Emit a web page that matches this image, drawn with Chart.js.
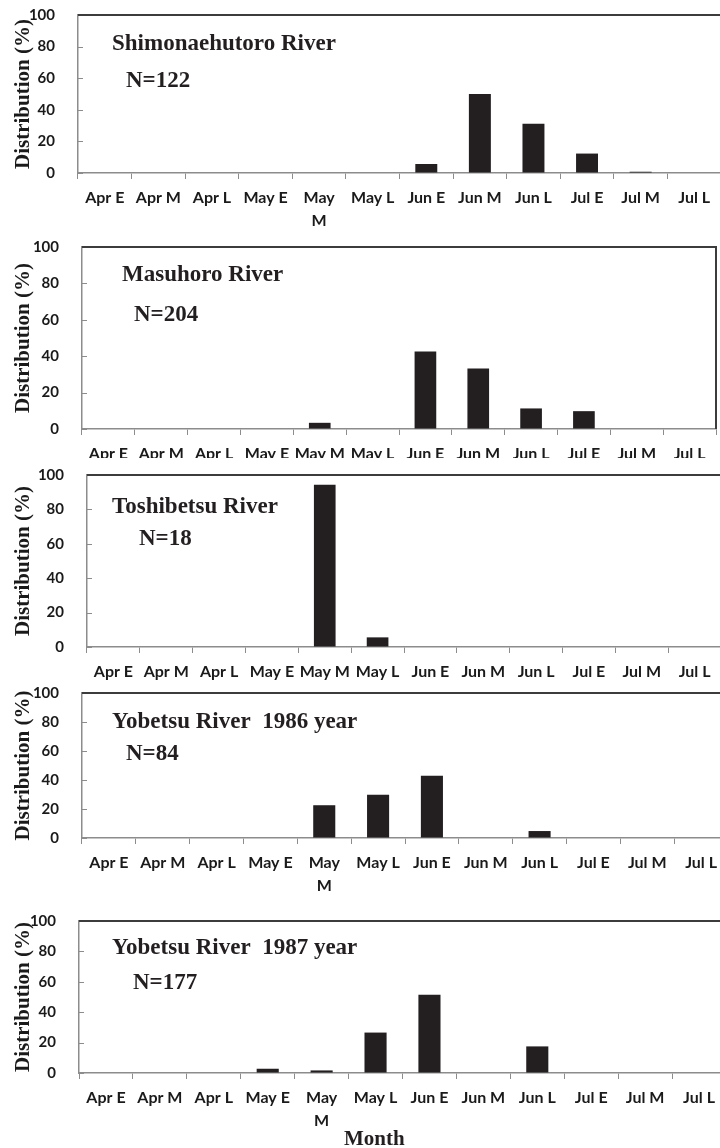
<!DOCTYPE html>
<html>
<head>
<meta charset="utf-8">
<script src="https://cdn.jsdelivr.net/npm/chart.js@4.4.1/dist/chart.umd.min.js"></script>
<style>
  html, body { margin: 0; padding: 0; background: #fff; }
  #page { position: relative; width: 720px; height: 1148px; overflow: hidden; background: #fff; }
  #page canvas { position: absolute; left: 0; }
</style>
</head>
<body>
<div id="page">
  <canvas id="p1"></canvas>
  <canvas id="p2"></canvas>
  <canvas id="p3"></canvas>
  <canvas id="p4"></canvas>
  <canvas id="p5"></canvas>
</div>
<script>
// Ten-day periods (early / middle / late) from April to July
const categories = ['Apr E', 'Apr M', 'Apr L', 'May E', 'May M', 'May L',
                    'Jun E', 'Jun M', 'Jun L', 'Jul E', 'Jul M', 'Jul L'];
const categoriesWrapped = ['Apr E', 'Apr M', 'Apr L', 'May E', ['May', 'M'], 'May L',
                           'Jun E', 'Jun M', 'Jun L', 'Jul E', 'Jul M', 'Jul L'];
const yTicks = [0, 20, 40, 60, 80, 100];

// Distribution (%) per period
const shimonaehutoro = [0, 0, 0, 0, 0, 0, 5.7, 50.0, 31.1, 12.3, 0.8, 0];
const masuhoro       = [0, 0, 0, 0, 3.4, 0, 42.6, 33.3, 11.3, 9.8, 0, 0];
const toshibetsu     = [0, 0, 0, 0, 94.4, 5.6, 0, 0, 0, 0, 0, 0];
const yobetsu1986    = [0, 0, 0, 0, 22.6, 29.8, 42.9, 0, 4.8, 0, 0, 0];
const yobetsu1987    = [0, 0, 0, 2.8, 1.7, 26.6, 51.4, 0, 17.5, 0, 0, 0];

const riverNames = ['Shimonaehutoro River', 'Masuhoro River', 'Toshibetsu River',
                    'Yobetsu River  1986 year', 'Yobetsu River  1987 year'];
const sampleSizes = ['N=122', 'N=204', 'N=18', 'N=84', 'N=177'];

const BAR = '#231f20';
const AXIS = '#8c8c8c';
const FRAME = '#3c3c3c';
const SANS = 'Lato, "Open Sans", sans-serif';
const SERIF = '"Liberation Serif", "Times New Roman", serif';

// Panel geometry (page pixels)
const panels = [
  { id: 'p1', values: shimonaehutoro, labels: categoriesWrapped, cTop: 0,   cBottom: 234,
    left: 78, right: 721, top: 15,  bottom: 173, rightBorder: false,
    river: [112, 50], n: [126, 87] },
  { id: 'p2', values: masuhoro, labels: categories, cTop: 232, cBottom: 458,
    left: 82, right: 716, top: 247, bottom: 429, rightBorder: true,
    river: [122, 281], n: [134, 321] },
  { id: 'p3', values: toshibetsu, labels: categories, cTop: 460, cBottom: 685,
    left: 87, right: 721, top: 475, bottom: 647, rightBorder: false,
    river: [112, 513], n: [139, 545] },
  { id: 'p4', values: yobetsu1986, labels: categoriesWrapped, cTop: 678, cBottom: 902,
    left: 82, right: 728, top: 693, bottom: 838, rightBorder: false,
    river: [112, 728], n: [126, 760] },
  { id: 'p5', values: yobetsu1987, labels: categoriesWrapped, cTop: 906, cBottom: 1148,
    left: 79, right: 726, top: 921, bottom: 1073, rightBorder: false,
    river: [112, 954], n: [133, 989], month: [344, 1145] }
];

// Frame line on top (and right where boxed), inward y ticks and in-plot captions
const framePlugin = {
  id: 'panelFrame',
  afterDraw(chart, args, opts) {
    const { ctx, chartArea: a } = chart;
    const yScale = chart.scales.y;
    ctx.save();

    ctx.strokeStyle = AXIS;
    ctx.lineWidth = 1;
    ctx.beginPath();
    for (const v of yTicks) {
      const y = Math.round(yScale.getPixelForValue(v)) + 0.5;
      ctx.moveTo(a.left, y);
      ctx.lineTo(a.left + 5, y);
    }
    ctx.stroke();

    ctx.strokeStyle = FRAME;
    ctx.lineWidth = 2;
    ctx.beginPath();
    ctx.moveTo(a.left, a.top);
    ctx.lineTo(a.right, a.top);
    if (opts.rightBorder) ctx.lineTo(a.right, a.bottom);
    ctx.stroke();

    ctx.fillStyle = BAR;
    ctx.textBaseline = 'alphabetic';
    ctx.textAlign = 'left';
    for (const t of opts.texts) {
      ctx.font = 'bold ' + t.size + 'px ' + SERIF;
      ctx.fillText(t.text, t.x, t.y - opts.offset);
    }
    ctx.restore();
  }
};

panels.forEach((p, i) => {
  const canvas = document.getElementById(p.id);
  const width = Math.max(720, p.right);
  const height = p.cBottom - p.cTop;
  canvas.width = width;
  canvas.height = height;
  canvas.style.top = p.cTop + 'px';
  canvas.style.width = width + 'px';
  canvas.style.height = height + 'px';

  const texts = [
    { text: riverNames[i], x: p.river[0], y: p.river[1], size: 23 },
    { text: sampleSizes[i], x: p.n[0], y: p.n[1], size: 23 }
  ];
  if (p.month) texts.push({ text: 'Month', x: p.month[0], y: p.month[1], size: 21 });

  new Chart(canvas, {
    type: 'bar',
    data: {
      labels: p.labels,
      datasets: [{
        data: p.values,
        backgroundColor: BAR,
        borderWidth: 0,
        barPercentage: 0.41,
        categoryPercentage: 1.0
      }]
    },
    options: {
      responsive: false,
      animation: false,
      devicePixelRatio: 1,
      layout: {
        padding: { top: p.top - p.cTop, left: 0, right: width - p.right, bottom: 0 }
      },
      plugins: {
        legend: { display: false },
        tooltip: { enabled: false },
        panelFrame: { rightBorder: p.rightBorder, texts: texts, offset: p.cTop }
      },
      scales: {
        x: {
          afterFit: s => { s.height = p.cBottom - p.bottom; },
          grid: { offset: true, drawOnChartArea: false, drawTicks: true, tickLength: 6,
                  color: AXIS, lineWidth: 1 },
          border: { display: true, color: AXIS, width: 1.5 },
          ticks: {
            autoSkip: false, maxRotation: 0, minRotation: 0, padding: 7,
            color: '#1a1a1a',
            font: { family: SANS, weight: 'bold', size: 16, lineHeight: '23px' }
          }
        },
        y: {
          min: 0, max: 100,
          afterFit: s => { s.width = p.left; },
          afterBuildTicks: s => { s.ticks = yTicks.map(v => ({ value: v })); },
          grid: { drawOnChartArea: false, drawTicks: true, tickLength: 20,
                  color: AXIS, tickColor: 'rgba(0,0,0,0)', lineWidth: 1 },
          border: { display: true, color: AXIS, width: 1.5 },
          ticks: {
            padding: 3,
            color: '#1a1a1a',
            font: { family: SANS, weight: 'bold', size: 15 }
          },
          title: {
            display: true,
            text: 'Distribution (%)',
            color: '#1a1a1a',
            padding: { top: 13, bottom: 0 },
            font: { family: SERIF, weight: 'bold', size: 21, lineHeight: 1 }
          }
        }
      }
    },
    plugins: [framePlugin]
  });
});
</script>
</body>
</html>
